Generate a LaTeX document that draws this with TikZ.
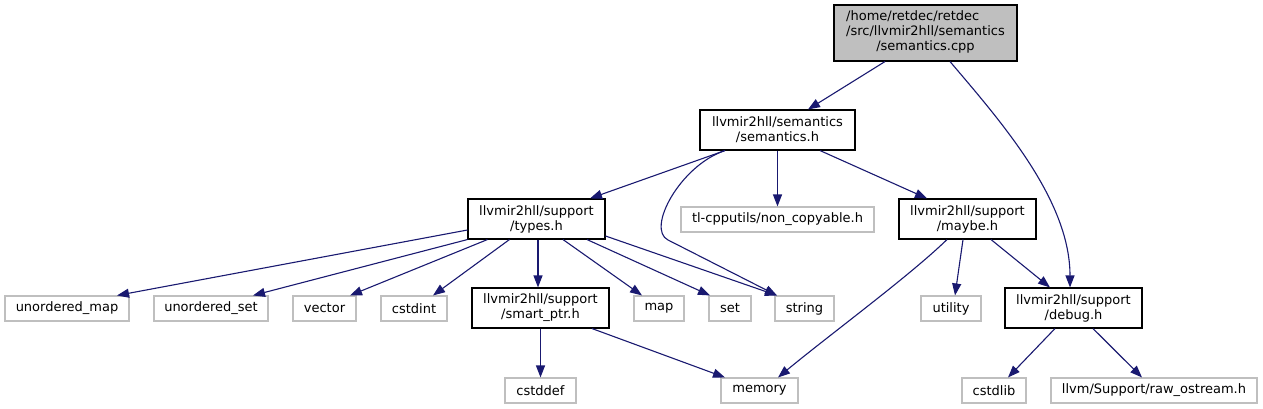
\documentclass[tikz,border=0pt]{standalone}
\usepackage{fontspec}
\setmainfont{DejaVu Sans}
\usetikzlibrary{arrows.meta}
\definecolor{edgeblue}{HTML}{191970}
\definecolor{leafgray}{HTML}{BFBFBF}
\tikzset{
  docbox/.style={draw=black, line width=1.1pt, inner sep=0pt, align=center,
    font=\fontsize{13}{15}\selectfont},
  leafbox/.style={draw=leafgray, line width=1.1pt, inner sep=0pt, align=center,
    minimum height=25pt, font=\fontsize{13}{15}\selectfont},
  dep/.style={draw=edgeblue, line width=1.1pt,
    -{Triangle[length=12pt,width=9pt,fill=edgeblue]}}
}
\begin{document}
\begin{tikzpicture}[x=1pt,y=-1pt]
\useasboundingbox (0,0) rectangle (1263,409);
% documented nodes
\node[docbox, fill=leafgray, minimum width=183pt, minimum height=56pt] (root) at (925.5,33)
  {\begin{tabular}{@{}l@{}}/home/retdec/retdec\\/src/llvmir2hll/semantics\\\multicolumn{1}{@{}c@{}}{/semantics.cpp}\end{tabular}};
\node[docbox, minimum width=155pt, minimum height=40pt] (sem) at (777.5,130) {llvmir2hll/semantics\\/semantics.h};
\node[docbox, minimum width=137pt, minimum height=40pt] (types) at (536.5,219) {llvmir2hll/support\\/types.h};
\node[docbox, minimum width=137pt, minimum height=40pt] (maybe) at (967.5,219) {llvmir2hll/support\\/maybe.h};
\node[docbox, minimum width=137pt, minimum height=40pt] (smart) at (540.5,308) {llvmir2hll/support\\/smart\_ptr.h};
\node[docbox, minimum width=137pt, minimum height=40pt] (debug) at (1073.5,308) {llvmir2hll/support\\/debug.h};
% leaf nodes
\node[leafbox, minimum width=193pt] (noncopy) at (777.5,219.5) {tl-cpputils/non\_copyable.h};
\node[leafbox, minimum width=124pt] (umap) at (67,308.5) {unordered\_map};
\node[leafbox, minimum width=114pt] (uset) at (211,308.5) {unordered\_set};
\node[leafbox, minimum width=63pt] (vector) at (324.5,308.5) {vector};
\node[leafbox, minimum width=66pt] (cstdint) at (414,308.5) {cstdint};
\node[leafbox, minimum width=50pt] (map) at (659,308.5) {map};
\node[leafbox, minimum width=42pt] (set) at (730,308.5) {set};
\node[leafbox, minimum width=59pt] (string) at (804.5,308.5) {string};
\node[leafbox, minimum width=60pt] (utility) at (951,308.5) {utility};
\node[leafbox, minimum width=71pt] (cstddef) at (540.5,390.5) {cstddef};
\node[leafbox, minimum width=77pt] (memory) at (759.5,390.5) {memory};
\node[leafbox, minimum width=64pt] (cstdlib) at (994,390.5) {cstdlib};
\node[leafbox, minimum width=206pt] (raw) at (1154,390.5) {llvm/Support/raw\_ostream.h};
\coordinate (sbend) at (668,240);
% edges
\draw[dep] ([xshift=-40.5pt]root.south) -- ([xshift=30.5pt]sem.north);
\draw[dep] ([xshift=24.5pt]root.south) .. controls +(50,59) and +(0,-88) .. ([xshift=-3.5pt]debug.north);
\draw[dep] ([xshift=-52.5pt]sem.south) -- ([xshift=53.5pt]types.north);
\draw[dep] ([xshift=-52.5pt]sem.south) .. controls +(-45,15) and +(-22,-11) .. (sbend) -- ([xshift=-27.5pt]string.north);
\draw[dep] (sem.south) -- (noncopy.north);
\draw[dep] ([xshift=42.5pt]sem.south) -- ([xshift=-40.5pt]maybe.north);
\draw[dep] ([yshift=-11pt]types.west) -- ([xshift=50pt]umap.north);
\draw[dep] (types.south west) -- ([xshift=42pt]uset.north);
\draw[dep] ([xshift=20pt]types.south west) -- ([xshift=25.5pt]vector.north);
\draw[dep] ([xshift=42pt]types.south west) -- ([xshift=19pt]cstdint.north);
\draw[dep] ([xshift=1.5pt]types.south) -- ([xshift=-2.5pt]smart.north);
\draw[dep] ([xshift=26.5pt]types.south) -- ([xshift=-17pt]map.north);
\draw[dep] ([xshift=50.5pt]types.south) -- ([xshift=-20pt]set.north);
\draw[dep] ([yshift=-17pt]types.east) -- ([xshift=-27.5pt]string.north);
\draw[dep] (smart.south) -- (cstddef.north);
\draw[dep] ([xshift=51.5pt]smart.south) -- ([xshift=-34.5pt]memory.north);
\draw[dep] ([xshift=-20.5pt]maybe.south) .. controls +(-37,36) and +(52,-43) .. ([xshift=18.5pt]memory.north);
\draw[dep] ([xshift=-4.5pt]maybe.south) -- ([xshift=4pt]utility.north);
\draw[dep] ([xshift=23.5pt]maybe.south) -- ([xshift=-23.5pt]debug.north);
\draw[dep] ([xshift=-18.5pt]debug.south) -- ([xshift=14pt]cstdlib.north);
\draw[dep] ([xshift=19.5pt]debug.south) -- ([xshift=-12pt]raw.north);
\end{tikzpicture}
\end{document}
